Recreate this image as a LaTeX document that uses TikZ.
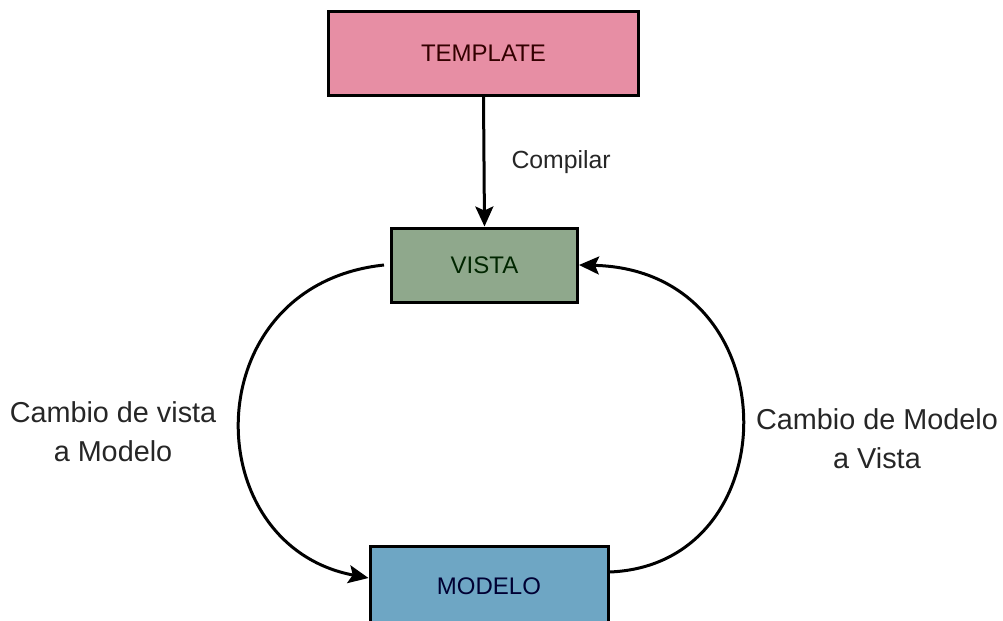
\documentclass[tikz,border=0pt]{standalone}
\usepackage{xcolor}
\usepackage{fontspec}
\setmainfont{Liberation Sans}
\usepackage{tikz}
\usetikzlibrary{arrows.meta}
\usetikzlibrary{calc}

\definecolor{templatepink}{RGB}{231,142,164}
\definecolor{vistagreen}{RGB}{143,168,140}
\definecolor{modeloblue}{RGB}{110,166,196}

\begin{document}
\begin{tikzpicture}[x=0.5pt, y=-0.5pt,
    box/.style={draw=black, line width=1.5pt, inner sep=0pt, font=\fontsize{12}{14}\selectfont},
    flow/.style={line width=1.5pt, -{Stealth[length=10pt, width=9pt, inset=2pt]}},
    side/.style={align=center, font=\fontsize{14.4}{19.5}\selectfont, text=black!85}]
    \useasboundingbox (0,0) rectangle (1003,621);

    \node[box, fill=templatepink, text=black!80!red, minimum width=155pt, minimum height=42pt] (template) at (483.5,53.5) {TEMPLATE};
    \node[box, fill=vistagreen, text=black!85!green, minimum width=93pt, minimum height=37pt] (vista) at (484.5,265) {VISTA};
    \node[box, fill=modeloblue, text=black!80!blue, minimum width=119pt, minimum height=40pt] (modelo) at (489,586) {MODELO};

    \draw[flow] (template.south) -- (vista.north)
        node[midway, right=13pt, inner sep=0pt, font=\fontsize{12.4}{14}\selectfont, text=black!85] (compilar) {Compilar};

    \draw[flow] ([xshift=-3pt]vista.west) .. controls (195,285) and (195,545) .. ([yshift=4pt]modelo.west);
    \draw[flow] ([yshift=7pt]modelo.east) .. controls (791,565) and (791,270) .. (vista.east);

    \node[side] (vistamodelo) at (113,432) {Cambio de vista\\a Modelo};
    \node[side] (modelovista) at (877,439) {Cambio de Modelo\\a Vista};
\end{tikzpicture}
\end{document}
